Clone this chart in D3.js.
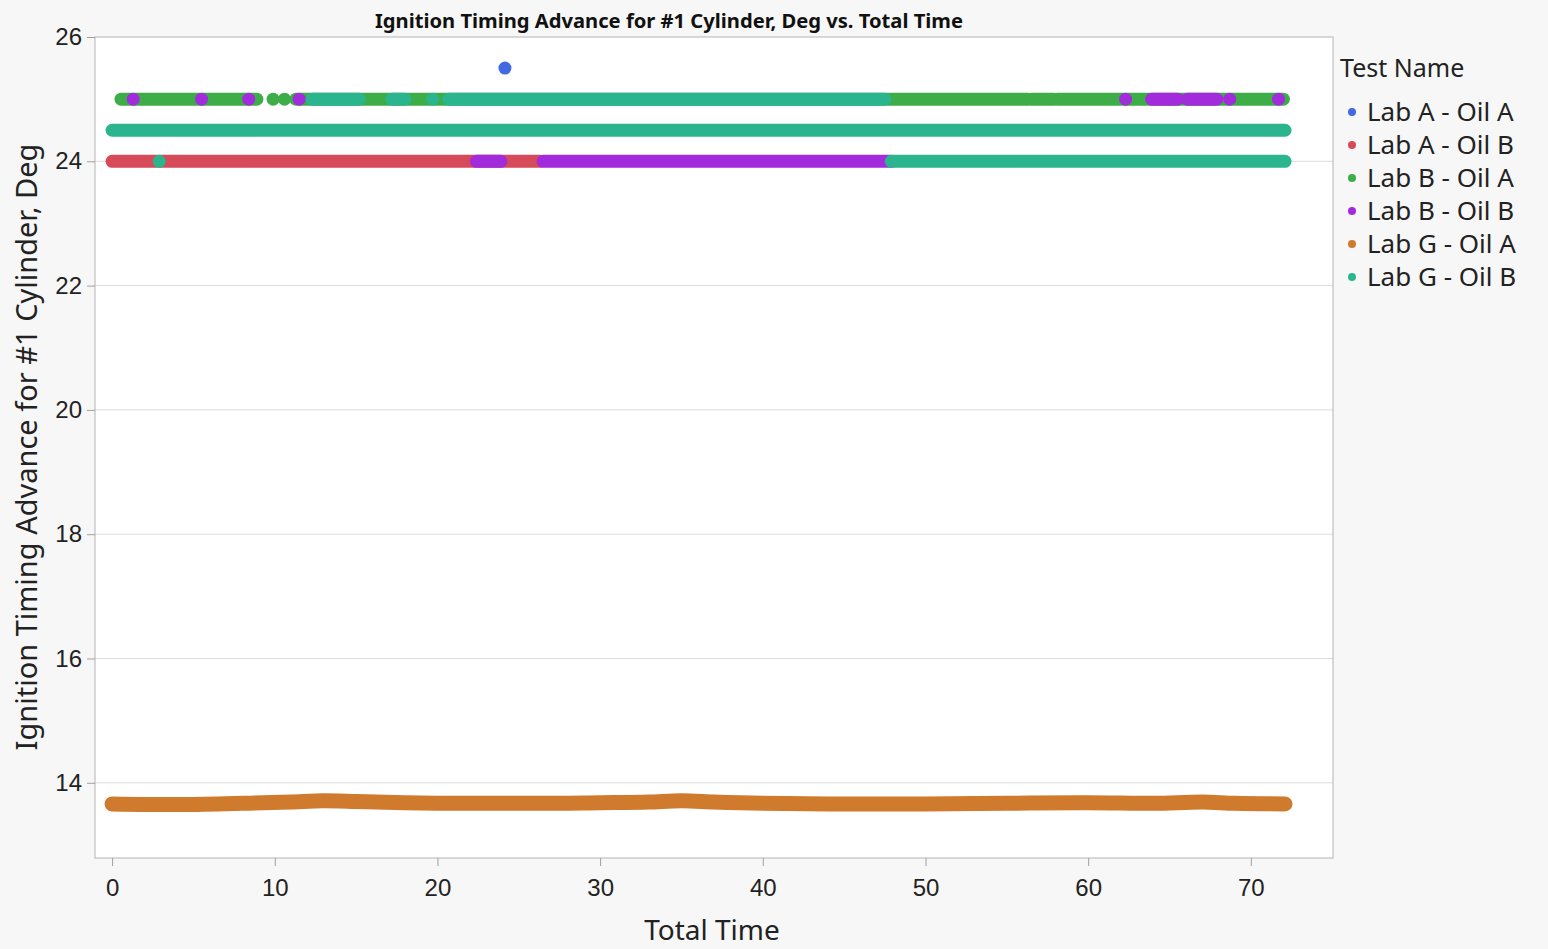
<!DOCTYPE html>
<html lang="en">
<head>
<meta charset="utf-8">
<title>Ignition Timing Advance</title>
<script src="https://d3js.org/d3.v7.min.js"></script>
<style>
  body { margin: 0; background: #f7f7f7; }
  svg { font-family: "Noto Sans", "Open Sans", sans-serif; }
  .tick line { stroke: #a0a0a0; }
  .tick text { fill: #222; font-size: 24px; }
</style>
</head>
<body>
<script>
// series names (legend order)
const seriesNames = ["Lab A - Oil A", "Lab A - Oil B", "Lab B - Oil A", "Lab B - Oil B", "Lab G - Oil A", "Lab G - Oil B"]
const seriesColors = ["#4169e1", "#d64a5a", "#3dae47", "#a22bdc", "#cf7a2c", "#2ab58e"]

// runs of dense points: [time start, time end, deg]
const labAOilA = [[24.15, 24.15, 25.5]]
const labAOilB = [[0, 26.3, 24]]
const labBOilA = [[0.55, 8.9, 25], [9.9, 9.9, 25], [10.6, 10.6, 25], [11.3, 56.3, 25], [56.5, 57.9, 25], [58.1, 72.0, 25]]
const labBOilB = [[1.3, 1.3, 25], [5.5, 5.5, 25], [8.4, 8.4, 25], [11.5, 11.5, 25],
                  [62.3, 62.3, 25], [63.9, 65.5, 25], [66.1, 67.9, 25], [68.7, 68.7, 25], [71.7, 71.7, 25],
                  [22.4, 23.9, 24], [26.5, 47.9, 24]]
const labGOilB = [[0, 72.1, 24.5], [12.3, 15.2, 25], [17.2, 18.0, 25], [19.7, 19.7, 25], [20.7, 47.5, 25],
                  [2.9, 2.9, 24], [47.9, 72.1, 24]]
// Lab G - Oil A trace: [time, deg]
const labGOilA = [[0, 13.66], [4, 13.65], [8, 13.67], [11, 13.69], [13, 13.71], [15, 13.7], [18, 13.68],
                  [22, 13.67], [26, 13.67], [30, 13.68], [33, 13.69], [35, 13.71], [37, 13.69], [40, 13.67],
                  [45, 13.66], [50, 13.66], [55, 13.67], [60, 13.68], [64, 13.67], [67, 13.69], [69, 13.67], [72.1, 13.66]]

const yTicks = [14, 16, 18, 20, 22, 24, 26]
const xTicks = [0, 10, 20, 30, 40, 50, 60, 70]

const W = 1548, H = 949
const plot = { left: 95, top: 37, right: 1333, bottom: 858 }
const dotW = 13

const svg = d3.select("body").append("svg").attr("width", W).attr("height", H)

const x = d3.scaleLinear().domain([-1.05, 75.05]).range([plot.left, plot.right])
const y = d3.scaleLinear().domain([12.79, 26]).range([plot.bottom, plot.top])

svg.append("rect")
  .attr("x", plot.left).attr("y", plot.top)
  .attr("width", plot.right - plot.left).attr("height", plot.bottom - plot.top)
  .attr("fill", "#fff")

// gridlines
svg.append("g").selectAll("line")
  .data(yTicks.filter(d => d < 26))
  .join("line")
  .attr("x1", plot.left).attr("x2", plot.right)
  .attr("y1", d => y(d)).attr("y2", d => y(d))
  .attr("stroke", "#dcdcdc")

const marks = svg.append("g")

function drawRuns(runs, color) {
  const g = marks.append("g")
  runs.forEach(r => {
    if (r[0] === r[1]) {
      g.append("circle").attr("cx", x(r[0])).attr("cy", y(r[2])).attr("r", dotW / 2).attr("fill", color)
    } else {
      g.append("line")
        .attr("x1", x(r[0])).attr("x2", x(r[1]))
        .attr("y1", y(r[2])).attr("y2", y(r[2]))
        .attr("stroke", color).attr("stroke-width", dotW).attr("stroke-linecap", "round")
    }
  })
}

drawRuns(labAOilB, seriesColors[1])
drawRuns(labBOilA, seriesColors[2])
drawRuns(labBOilB, seriesColors[3])

marks.append("path")
  .datum(labGOilA)
  .attr("d", d3.line().x(d => x(d[0])).y(d => y(d[1])).curve(d3.curveMonotoneX))
  .attr("fill", "none")
  .attr("stroke", seriesColors[4]).attr("stroke-width", 15)
  .attr("stroke-linecap", "round").attr("stroke-linejoin", "round")

drawRuns(labGOilB, seriesColors[5])
drawRuns(labAOilA, seriesColors[0])

// frame
svg.append("rect")
  .attr("x", plot.left).attr("y", plot.top)
  .attr("width", plot.right - plot.left).attr("height", plot.bottom - plot.top)
  .attr("fill", "none").attr("stroke", "#b4b4b4")

const yAxis = svg.append("g")
  .attr("transform", `translate(${plot.left},0)`)
  .call(d3.axisLeft(y).tickValues(yTicks).tickSize(8).tickPadding(5))
yAxis.select(".domain").remove()

const xAxis = svg.append("g")
  .attr("transform", `translate(0,${plot.bottom})`)
  .call(d3.axisBottom(x).tickValues(xTicks).tickSize(8).tickPadding(13))
xAxis.select(".domain").remove()

svg.append("text")
  .attr("x", 669).attr("y", 28)
  .attr("text-anchor", "middle")
  .attr("font-size", 20).attr("font-weight", "bold").attr("fill", "#111")
  .attr("textLength", 588).attr("lengthAdjust", "spacingAndGlyphs")
  .text("Ignition Timing Advance for #1 Cylinder, Deg vs. Total Time")

svg.append("text")
  .attr("x", 712).attr("y", 940)
  .attr("text-anchor", "middle")
  .attr("font-size", 28).attr("fill", "#222")
  .text("Total Time")

svg.append("text")
  .attr("transform", "translate(37,447) rotate(-90)")
  .attr("text-anchor", "middle")
  .attr("font-size", 29).attr("fill", "#222")
  .text("Ignition Timing Advance for #1 Cylinder, Deg")

// legend
const legend = svg.append("g").attr("transform", "translate(1340,0)")
legend.append("text")
  .attr("x", 0).attr("y", 77)
  .attr("font-size", 25).attr("fill", "#222")
  .text("Test Name")

const item = legend.selectAll(".item")
  .data(seriesNames)
  .join("g")
  .attr("transform", (d, i) => `translate(0,${112 + i * 33})`)
item.append("circle").attr("cx", 12).attr("cy", 0).attr("r", 4).attr("fill", (d, i) => seriesColors[i])
item.append("text")
  .attr("x", 27).attr("y", 9)
  .attr("font-size", 26).attr("fill", "#222")
  .text(d => d)
</script>
</body>
</html>
